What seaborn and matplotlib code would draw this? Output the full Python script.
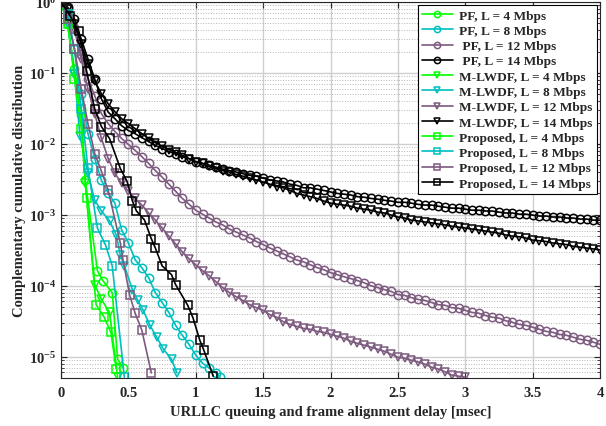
import numpy as np
import pandas as pd
import matplotlib
matplotlib.use("Agg")
import matplotlib.pyplot as plt
import seaborn as sns
from matplotlib.ticker import LogLocator, NullFormatter

# x grid of the dense (long) curves
x_long = np.round(np.arange(0, 4.001, 0.05), 2)
x_mlwdf12 = np.round(np.arange(0, 3.001, 0.05), 2)

pf14 = [1.0, 0.84, 0.57, 0.30, 0.157, 0.082, 0.043, 0.028, 0.0226, 0.018,
        0.0154, 0.0139, 0.0122, 0.0108, 0.0095, 0.0086, 0.0078, 0.0073, 0.0066, 0.0062,
        0.0056, 0.0053, 0.0050, 0.0047, 0.0044, 0.0042, 0.0040, 0.0038, 0.0036, 0.0035,
        0.0033, 0.0031, 0.0030, 0.0029, 0.0027, 0.0026, 0.0024, 0.0024, 0.0023, 0.0022,
        0.0021, 0.0020, 0.00195, 0.0019, 0.0018, 0.00177, 0.0017, 0.00166, 0.0016, 0.00156,
        0.0015, 0.0015, 0.00146, 0.0014, 0.00137, 0.00137, 0.00132, 0.00128, 0.00124, 0.00124,
        0.0012, 0.00116, 0.00116, 0.00113, 0.00113, 0.00109, 0.00106, 0.00106, 0.00102, 0.00102,
        0.00099, 0.00096, 0.00096, 0.00093, 0.00093, 0.0009, 0.0009, 0.00087, 0.00087, 0.00084,
        0.00084]
mlwdf14 = [1.0, 0.785, 0.484, 0.254, 0.133, 0.077, 0.0506, 0.0367, 0.0284, 0.0226,
           0.0193, 0.0164, 0.0139, 0.0119, 0.0104, 0.0092, 0.0083, 0.0076, 0.0069, 0.0062,
           0.0056, 0.0053, 0.0048, 0.0045, 0.0042, 0.0040, 0.0037, 0.0035, 0.0033, 0.0031,
           0.0029, 0.0027, 0.0025, 0.0024, 0.0022, 0.0020, 0.0019, 0.0018, 0.0017, 0.00156,
           0.00146, 0.00141, 0.00137, 0.00132, 0.00124, 0.0012, 0.00116, 0.00109, 0.00106, 0.00099,
           0.00093, 0.0009, 0.00084, 0.00082, 0.00079, 0.00077, 0.00074, 0.00072, 0.00069, 0.00067,
           0.00065, 0.00063, 0.00061, 0.00059, 0.00057, 0.00055, 0.00052, 0.0005, 0.00049, 0.00047,
           0.00044, 0.00043, 0.00042, 0.0004, 0.00039, 0.00038, 0.00036, 0.00035, 0.00034, 0.00033,
           0.00032]
pf12 = [1.0, 0.785, 0.412, 0.184, 0.082, 0.0475, 0.0266, 0.0193, 0.0149, 0.0119,
        0.0098, 0.0081, 0.0066, 0.0053, 0.0042, 0.0034, 0.0027, 0.00215, 0.0017, 0.00141,
        0.00116, 0.00102, 0.0009, 0.00079, 0.00072, 0.00063, 0.00057, 0.00052, 0.00047, 0.00042,
        0.00038, 0.00034, 0.00031, 0.00028, 0.000255, 0.00023, 0.000217, 0.000197, 0.00018, 0.000168,
        0.000153, 0.000143, 0.000134, 0.000126, 0.000118, 0.00011, 0.0001, 9.4e-5, 8.8e-5, 8.3e-5,
        7.5e-5, 7.3e-5, 6.8e-5, 6.4e-5, 6.2e-5, 5.8e-5, 5.4e-5, 5.3e-5, 4.9e-5, 4.8e-5,
        4.5e-5, 4.2e-5, 4.1e-5, 3.8e-5, 3.6e-5, 3.5e-5, 3.2e-5, 3.05e-5, 2.85e-5, 2.76e-5,
        2.6e-5, 2.43e-5, 2.27e-5, 2.2e-5, 2.06e-5, 2.0e-5, 1.88e-5, 1.76e-5, 1.7e-5, 1.6e-5,
        1.49e-5]
mlwdf12 = [1.0, 0.785, 0.412, 0.157, 0.0595, 0.0266, 0.0119, 0.0062, 0.00384, 0.00278,
           0.00215, 0.0017, 0.00137, 0.00106, 0.00084, 0.00065, 0.0005, 0.00039, 0.0003, 0.00024,
           0.000197, 0.000163, 0.000138, 0.000114, 9.4e-5, 8.0e-5, 7.0e-5, 6.2e-5, 5.4e-5, 4.9e-5,
           4.5e-5, 3.9e-5, 3.6e-5, 3.1e-5, 2.85e-5, 2.67e-5, 2.5e-5, 2.43e-5, 2.27e-5, 2.2e-5,
           2.06e-5, 1.94e-5, 1.82e-5, 1.65e-5, 1.54e-5, 1.45e-5, 1.36e-5, 1.27e-5, 1.19e-5, 1.08e-5,
           9.8e-6, 9.5e-6, 8.9e-6, 8.4e-6, 7.85e-6, 7.1e-6, 6.7e-6, 6.1e-6, 5.5e-6, 5.3e-6,
           5.15e-6]

# short curves
x_pf8 = [0, 0.05, 0.1, 0.15, 0.2, 0.25, 0.3, 0.35, 0.4, 0.45, 0.5, 0.55, 0.6, 0.65, 0.7,
         0.75, 0.8, 0.85, 0.9, 0.95, 1.0, 1.05, 1.1, 1.15, 1.18]
pf8 = [1.0, 0.569, 0.216, 0.0506, 0.0139, 0.0062, 0.00306, 0.00201, 0.00146, 0.00061, 0.0004,
       0.000232, 0.000179, 0.00013, 8.0e-5, 5.8e-5, 4.2e-5, 2.76e-5, 2.0e-5, 1.49e-5, 1.05e-5,
       8.1e-6, 6.9e-6, 5.9e-6, 5.15e-6]
x_mlwdf8 = [0, 0.05, 0.1, 0.14, 0.2, 0.25, 0.3, 0.36, 0.41, 0.44, 0.47, 0.53, 0.57, 0.61,
            0.66, 0.71, 0.76, 0.82, 0.86]
mlwdf8 = [1.0, 0.484, 0.0965, 0.013, 0.00384, 0.00161, 0.00113, 0.00082, 0.00052, 0.00027,
          0.000191, 8.8e-5, 6.2e-5, 4.5e-5, 2.76e-5, 1.88e-5, 1.27e-5, 9.2e-6, 5.9e-6]
x_prop8 = [0, 0.05, 0.1, 0.15, 0.2, 0.27, 0.33, 0.38, 0.47]
prop8 = [1.0, 0.668, 0.216, 0.0312, 0.0045, 0.00065, 0.000376, 0.000191, 5.15e-6]

x_pf4 = [0, 0.05, 0.1, 0.15, 0.18, 0.27, 0.31, 0.38, 0.42, 0.46]
pf4 = [1.0, 0.484, 0.113, 0.0312, 0.00306, 0.000163, 0.000118, 8.0e-5, 9.2e-6, 6.9e-6]
x_mlwdf4 = [0, 0.05, 0.1, 0.15, 0.18, 0.25, 0.3, 0.36, 0.42]
mlwdf4 = [1.0, 0.484, 0.0965, 0.0226, 0.00278, 0.000104, 6.4e-5, 4.2e-5, 5.15e-6]
x_prop4 = [0, 0.05, 0.1, 0.15, 0.19, 0.26, 0.32, 0.37, 0.41]
prop4 = [1.0, 0.484, 0.0821, 0.0164, 0.0017, 5.4e-5, 3.6e-5, 2.2e-5, 6.7e-6]

x_prop12 = [0, 0.05, 0.1, 0.15, 0.2, 0.25, 0.3, 0.35, 0.44, 0.46, 0.51, 0.55, 0.6, 0.67]
prop12 = [1.0, 0.569, 0.216, 0.0595, 0.0193, 0.0073, 0.0041, 0.00222, 0.0004, 0.000232,
          7.3e-5, 4.1e-5, 2.35e-5, 5.9e-6]
x_prop14 = [0, 0.07, 0.13, 0.19, 0.25, 0.3, 0.36, 0.44, 0.49, 0.53, 0.56, 0.62, 0.67, 0.7,
            0.75, 0.82, 0.85, 0.94, 0.98, 1.03, 1.06, 1.13]
prop14 = [1.0, 0.626, 0.386, 0.106, 0.031, 0.0175, 0.0119, 0.0045, 0.00296, 0.00156, 0.00113,
          0.00084, 0.00046, 0.00034, 0.000191, 0.000143, 0.000104, 5.3e-5, 3.5e-5, 1.7e-5,
          1.23e-5, 5.3e-6]

x_ticks = [0, 0.5, 1, 1.5, 2, 2.5, 3, 3.5, 4]
x_ticklabels = ["0", "0.5", "1", "1.5", "2", "2.5", "3", "3.5", "4"]
y_ticks = [1e-5, 1e-4, 1e-3, 1e-2, 1e-1, 1]
y_ticklabels = [r"$10^{-5}$", r"$10^{-4}$", r"$10^{-3}$", r"$10^{-2}$", r"$10^{-1}$", r"$10^{0}$"]

green = "#00ff00"
cyan = "#00bfbf"
purple = "#7d5a7f"
black = "#000000"

series = [
    ("PF, L = 4 Mbps", x_pf4, pf4, green, "o"),
    ("PF, L = 8 Mbps", x_pf8, pf8, cyan, "o"),
    (" PF, L = 12 Mbps", x_long, pf12, purple, "o"),
    (" PF, L = 14 Mbps", x_long, pf14, black, "o"),
    ("M-LWDF, L = 4 Mbps", x_mlwdf4, mlwdf4, green, "v"),
    ("M-LWDF, L = 8 Mbps", x_mlwdf8, mlwdf8, cyan, "v"),
    ("M-LWDF, L = 12 Mbps", x_mlwdf12, mlwdf12, purple, "v"),
    ("M-LWDF, L = 14 Mbps", x_long, mlwdf14, black, "v"),
    ("Proposed, L = 4 Mbps", x_prop4, prop4, green, "s"),
    ("Proposed, L = 8 Mbps", x_prop8, prop8, cyan, "s"),
    ("Proposed, L = 12 Mbps", x_prop12, prop12, purple, "s"),
    ("Proposed, L = 14 Mbps", x_prop14, prop14, black, "s"),
]

sns.set_style("ticks")
plt.rcParams["font.family"] = ["Liberation Serif", "DejaVu Serif"]
plt.rcParams["font.weight"] = "bold"
plt.rcParams["mathtext.fontset"] = "custom"
plt.rcParams["mathtext.rm"] = "Liberation Serif:bold"
plt.rcParams["mathtext.it"] = "Liberation Serif:bold"
plt.rcParams["mathtext.bf"] = "Liberation Serif:bold"

fig = plt.figure(figsize=(6.06, 4.27), dpi=100)
ax = fig.add_axes([0.1007, 0.1124, 0.8894, 0.8806])

for label, xs, ys, col, mk in series:
    df = pd.DataFrame({"x": xs, "y": ys})
    sns.lineplot(data=df, x="x", y="y", ax=ax, color=col, marker=mk, label=label,
                 sort=False, estimator=None, linewidth=1.2, markersize=6,
                 markerfacecolor="none", markeredgecolor=col, markeredgewidth=1.1)

ax.set_yscale("log")
ax.set_xlim(0, 4)
ax.set_ylim(5e-6, 1)
ax.set_xticks(x_ticks, x_ticklabels)
ax.set_yticks(y_ticks, y_ticklabels)
ax.yaxis.set_minor_locator(LogLocator(base=10, subs=np.arange(2, 10), numticks=20))
ax.yaxis.set_minor_formatter(NullFormatter())

ax.grid(True, which="major", color="#cfcfcf", linewidth=1.0, linestyle="-")
ax.grid(True, which="minor", axis="y", color="#b5b5b5", linewidth=0.7, linestyle=":")
ax.set_axisbelow(True)

ax.tick_params(which="both", direction="in", top=True, right=True, labelsize=10.5)
ax.tick_params(axis="x", which="major", pad=6)
ax.tick_params(which="major", length=4)
ax.tick_params(which="minor", length=2)
for sp in ax.spines.values():
    sp.set_color("#262626")
    sp.set_linewidth(0.8)

ax.set_xlabel("URLLC queuing and frame alignment delay [msec]", fontsize=10.5,
              fontweight="bold", labelpad=4)
ax.set_ylabel("Complementary cumulative distribution", fontsize=10.5,
              fontweight="bold", labelpad=2)

leg = ax.legend(loc="upper right", frameon=True, fancybox=False,
                edgecolor="black", framealpha=1, labelspacing=0.22, handlelength=2.3,
                borderpad=0.3, handletextpad=0.5, borderaxespad=0.25,
                prop={"family": ["Liberation Serif"], "weight": "bold", "size": 9.6})
leg.get_frame().set_linewidth(0.8)
for h in leg.legend_handles:
    h.set_markersize(4.5)

fig.savefig("out.png", dpi=100)
